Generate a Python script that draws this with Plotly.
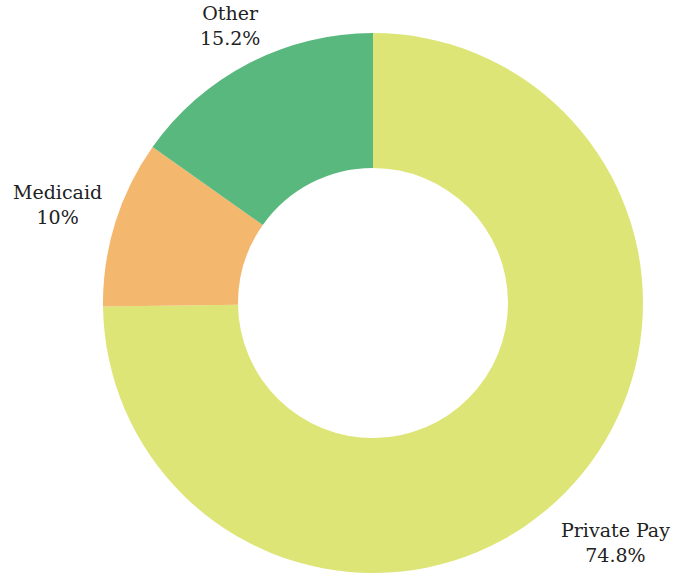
import math
import plotly.graph_objects as go

labels = ["Private Pay", "Medicaid", "Other"]
values = [74.8, 10, 15.2]
colors = ["#dde576", "#f3b76e", "#59b87e"]

W, H = 679, 573
cx, cy, R = 373, 303, 270          # pie centre / radius in px
label_dist = [341, 330, 312]       # how far each label sits from the centre (px)

fig = go.Figure(go.Pie(
    labels=labels,
    values=values,
    hole=0.5,
    sort=False,
    direction="clockwise",
    rotation=0,
    marker=dict(colors=colors, line=dict(width=0)),
    textinfo="none",
    hoverinfo="label+percent",
    showlegend=False,
    domain=dict(x=[(cx - R) / W, (cx + R) / W], y=[1 - (cy + R) / H, 1 - (cy - R) / H]),
))

# outside labels at each slice's mid angle
total = sum(values)
acc = 0
for lab, v, d in zip(labels, values, label_dist):
    mid = (acc + v / 2) / total * 2 * math.pi
    acc += v
    pct = round(v / total * 100, 1)
    pct_txt = f"{pct:g}%"
    fig.add_annotation(
        x=(cx + d * math.sin(mid)) / W,
        y=1 - (cy - d * math.cos(mid)) / H,
        xref="paper", yref="paper",
        text=f"{lab}<br>{pct_txt}",
        showarrow=False,
        xanchor="center", yanchor="middle", align="center",
        font=dict(family="DejaVu Serif", size=19, color="#222222"),
    )

fig.update_layout(
    width=W,
    height=H,
    margin=dict(l=0, r=0, t=0, b=0),
    paper_bgcolor="white",
    plot_bgcolor="white",
)

# page body has a default 8px margin; drop it so the figure sits at 0,0
fig.write_html(
    "out.html",
    config={"displayModeBar": False},
    post_script="document.body.style.margin='0';document.body.style.overflow='hidden';",
)
